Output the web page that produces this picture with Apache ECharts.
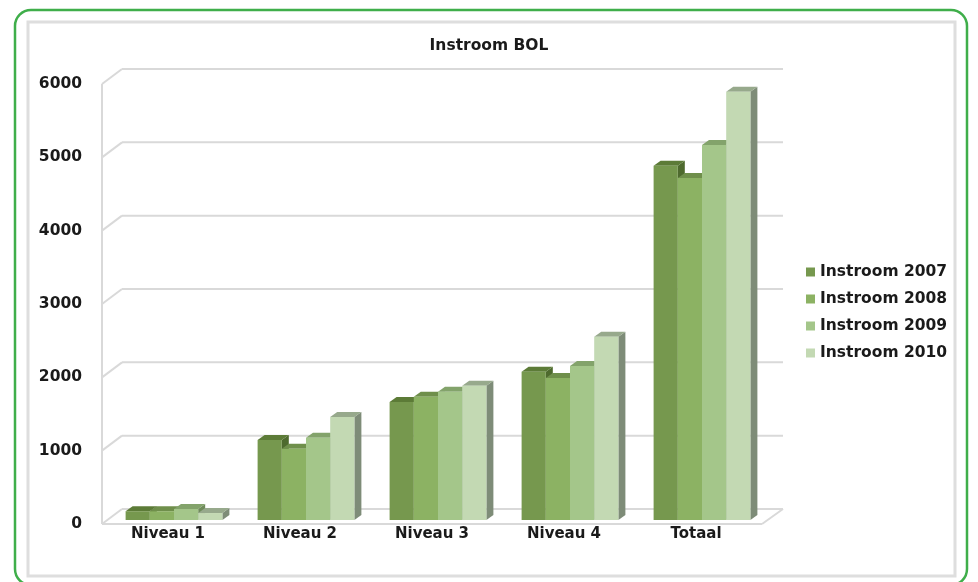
<!DOCTYPE html>
<html>
<head>
<meta charset="utf-8">
<script src="https://cdn.jsdelivr.net/npm/echarts@6/dist/echarts.min.js"></script>
<style>
html,body{margin:0;padding:0;background:#fff;}
#c{width:978px;height:582px;}
</style>
</head>
<body>
<div id="c"></div>
<script>
var categories = ['Niveau 1', 'Niveau 2', 'Niveau 3', 'Niveau 4', 'Totaal'];
var seriesNames = ['Instroom 2007', 'Instroom 2008', 'Instroom 2009', 'Instroom 2010'];
var v2007 = [120, 1090, 1610, 2020, 4830];
var v2008 = [120, 970, 1680, 1935, 4665];
var v2009 = [150, 1120, 1750, 2100, 5115];
var v2010 = [95, 1405, 1830, 2500, 5840];
var yTicks = [0, 1000, 2000, 3000, 4000, 5000, 6000];

var seriesValues = [v2007, v2008, v2009, v2010];
var palette = [
  {front: '#76984e', top: '#5c7b37', side: '#4e6a2e'},
  {front: '#8cb263', top: '#6f8f4b', side: '#5f7d40'},
  {front: '#a4c68a', top: '#83a36b', side: '#6f8b5b'},
  {front: '#c3d9b3', top: '#97a98c', side: '#7e8c78'}
];
var FONT = 'DejaVu Sans';
var WALL_DX = 20, WALL_DY = 15;   // depth of back wall
var BAR_SHIFT_X = 6, BAR_SHIFT_Y = 4; // bar placement inside depth
var BAR_DX = 7, BAR_DY = 5;       // bar depth

var chart = echarts.init(document.getElementById('c'));

function frameRender(params, api) {
  var cs = params.coordSys;
  var v = api.value(1);
  var y = api.coord([0, v])[1];
  var x0 = cs.x, x1 = cs.x + cs.width;
  var st = {stroke: '#d9d9d9', lineWidth: 2};
  var children = [
    {type: 'line', shape: {x1: x0, y1: y, x2: x0 + WALL_DX, y2: y - WALL_DY}, style: st},
    {type: 'line', shape: {x1: x0 + WALL_DX, y1: y - WALL_DY, x2: x1 + WALL_DX + 1, y2: y - WALL_DY}, style: st}
  ];
  if (params.dataIndex === 0) {
    var yTop = api.coord([0, yTicks[yTicks.length - 1]])[1];
    children.push({type: 'line', shape: {x1: x0, y1: y, x2: x1, y2: y}, style: st});
    children.push({type: 'line', shape: {x1: x1, y1: y, x2: x1 + WALL_DX + 1, y2: y - WALL_DY}, style: st});
    children.push({type: 'line', shape: {x1: x0, y1: y, x2: x0, y2: yTop}, style: st});
  }
  return {type: 'group', children: children};
}

function makeBarRender(k) {
  return function (params, api) {
    var idx = api.value(0);
    var val = api.value(1);
    var top = api.coord([idx, val]);
    var base = api.coord([idx, 0]);
    var catW = api.size([1, 0])[0];
    var bw = catW * 0.1833;
    var x = top[0] - 2 * bw + k * bw + BAR_SHIFT_X;
    var yT = top[1] - BAR_SHIFT_Y;
    var yB = base[1] - BAR_SHIFT_Y;
    var c = palette[k];
    return {
      type: 'group',
      children: [
        {type: 'polygon', shape: {points: [[x + bw, yT], [x + bw + BAR_DX, yT - BAR_DY], [x + bw + BAR_DX, yB - BAR_DY], [x + bw, yB]]}, style: {fill: c.side}},
        {type: 'polygon', shape: {points: [[x, yT], [x + bw, yT], [x + bw + BAR_DX, yT - BAR_DY], [x + BAR_DX, yT - BAR_DY]]}, style: {fill: c.top}},
        {type: 'rect', shape: {x: x, y: yT, width: bw, height: yB - yT}, style: {fill: c.front}}
      ]
    };
  };
}

var series = [{
  type: 'custom',
  name: 'frame',
  renderItem: frameRender,
  data: yTicks.map(function (t) { return [0, t]; }),
  silent: true,
  z: 1
}];
seriesValues.forEach(function (vals, k) {
  series.push({
    type: 'custom',
    name: seriesNames[k],
    renderItem: makeBarRender(k),
    itemStyle: {color: palette[k].front},
    data: vals.map(function (v, i) { return [i, v]; }),
    z: 2 + k
  });
});

chart.setOption({
  animation: false,
  backgroundColor: '#ffffff',
  textStyle: {fontFamily: FONT},
  title: {
    text: 'Instroom BOL',
    left: 'center',
    top: 33,
    textStyle: {fontFamily: FONT, fontSize: 15.5, fontWeight: 'bold', color: '#1a1a1a'}
  },
  legend: {
    data: seriesNames,
    orient: 'vertical',
    left: 801,
    top: 259,
    icon: 'rect',
    itemWidth: 9,
    itemHeight: 9,
    itemGap: 11,
    textStyle: {fontFamily: FONT, fontSize: 15.5, fontWeight: 'bold', color: '#1a1a1a', padding: [0, 0, 0, 0]}
  },
  grid: {left: 102, right: 216, top: 84, bottom: 58, containLabel: false},
  xAxis: {
    type: 'category',
    data: categories,
    axisLine: {show: false},
    axisTick: {show: false},
    splitLine: {show: false},
    axisLabel: {fontFamily: FONT, fontSize: 15, fontWeight: 'bold', color: '#1a1a1a', margin: 3}
  },
  yAxis: {
    type: 'value',
    min: 0,
    max: 6000,
    interval: 1000,
    axisLine: {show: false},
    axisTick: {show: false},
    splitLine: {show: false},
    axisLabel: {
      fontFamily: FONT, fontSize: 15.5, fontWeight: 'bold', color: '#1a1a1a', margin: 20,
      formatter: function (v) { return String(v); }
    }
  },
  graphic: [
    {type: 'rect', shape: {x: 28, y: 22, width: 927, height: 554}, style: {fill: 'none', stroke: '#dedede', lineWidth: 3}, z: -1},
    {type: 'rect', shape: {x: 15, y: 10, width: 952, height: 575, r: 16}, style: {fill: 'none', stroke: '#3fae4a', lineWidth: 2.5}, z: 100}
  ],
  series: series
});
</script>
</body>
</html>
